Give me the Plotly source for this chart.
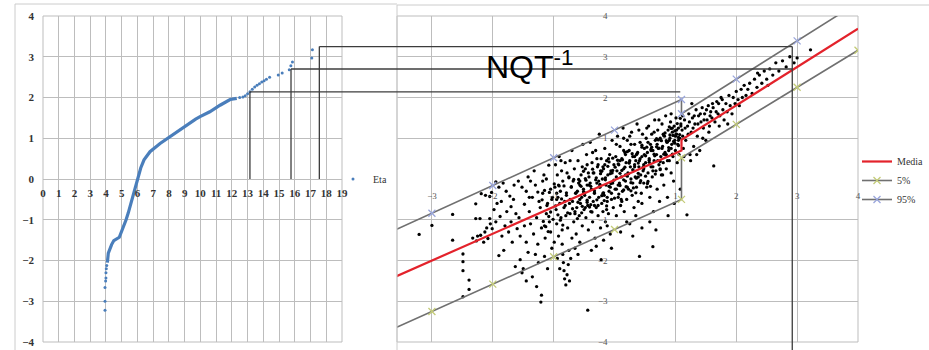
import plotly.graph_objects as go

W, H = 929, 350

# ---------------- data: left panel (Eta) ----------------
eta_x_ticks = list(range(0, 20))
eta_y_ticks = list(range(-4, 5))

eta_line_x = [4.09, 4.15, 4.36, 4.50, 4.85, 5.05, 5.28, 5.42, 5.57, 5.72, 5.85, 5.98, 6.21, 6.42, 6.80,
              7.44, 8.07, 8.71, 9.34, 9.70, 9.98, 10.60, 11.25, 11.89, 12.31]
eta_line_y = [-2.05, -1.82, -1.61, -1.51, -1.43, -1.25, -1.00, -0.83, -0.63, -0.45, -0.26, -0.05, 0.27, 0.47, 0.67,
              0.87, 1.04, 1.20, 1.38, 1.47, 1.53, 1.65, 1.81, 1.95, 1.98]
eta_tail_x = [3.94, 3.94, 3.94, 3.98, 4.00, 4.00, 4.02, 4.05,
              12.50, 12.70, 12.85, 13.00, 13.15, 13.30, 13.45, 13.60, 13.75, 13.90, 14.05, 14.20, 14.40,
              14.95, 15.20, 15.65, 15.75, 15.85, 17.08, 17.12]
eta_tail_y = [-3.22, -3.00, -2.66, -2.50, -2.43, -2.30, -2.20, -2.12,
              2.00, 2.01, 2.04, 2.09, 2.14, 2.20, 2.26, 2.30, 2.34, 2.38, 2.41, 2.45, 2.50,
              2.55, 2.60, 2.68, 2.78, 2.87, 2.97, 3.17]

# ---------------- data: right panel ----------------
right_x_ticks = [-3, -2, -1, 1, 2, 3, 4]
right_y_ticks = [-4, -3, -2, -1, 1, 2, 3, 4]

band_x = [-4, -3, -2, -1, 0, 1.1, 1.1, 2, 3, 4]
media_y = [-2.66, -2.00, -1.34, -0.68, -0.02, 0.70, 0.96, 1.81, 2.75, 3.69]
p5_y = [-3.92, -3.25, -2.58, -1.91, -1.24, -0.50, 0.52, 1.34, 2.25, 3.16]
p95_y = [-1.52, -0.84, -0.16, 0.52, 1.20, 1.95, 1.60, 2.45, 3.39, 4.33]

cloud_points = [
    (-3.21, -1.36), (-3.00, -1.14), (-2.66, -0.87), (-2.66, -1.50), (-2.49, -1.84), (-2.49, -2.03), (-2.49, -2.25),
    (-2.39, -2.48), (-2.39, -2.71), (-2.49, -2.89), (-2.28, -0.97), (-2.21, -0.97), (-2.05, -0.97), (-2.28, -0.61),
    (-2.33, -1.45), (-2.27, -1.52), (-2.20, -1.38), (-2.13, -1.30), (-2.08, -1.46), (-2.19, -0.36), (-2.12, -0.40),
    (-2.05, -0.43), (-2.02, -0.33), (-2.01, -1.22), (-2.04, -1.10), (-2.10, -1.20), (-2.15, -1.55), (-2.25, -1.40),
    (-1.95, -0.07), (-1.90, -0.20), (-1.83, -0.10), (-1.78, -0.30), (-1.72, -0.42), (-1.66, -0.50), (-1.86, -0.55),
    (-1.93, -0.60), (-1.70, -0.68), (-1.62, -0.85), (-1.57, -0.95), (-1.88, -0.92), (-1.95, -1.05), (-1.80, -1.15),
    (-1.74, -1.30), (-1.60, -1.22), (-1.55, -1.40), (-1.90, -1.88), (-1.82, -1.75), (-1.63, -2.15), (-1.55, -1.98),
    (-1.52, -2.30), (-1.68, -1.55), (-1.77, -0.80), (-1.98, -0.75), (-1.52, -0.20), (-1.58, -0.05), (-1.65, -0.15),
    (-1.85, -1.40), (-1.70, -1.05),
    (-1.48, -0.62), (-1.45, -0.30), (-1.42, 0.05), (-1.40, -0.80), (-1.38, -1.10), (-1.35, -0.45), (-1.33, -1.35),
    (-1.30, -0.15), (-1.28, -0.95), (-1.26, -1.60), (-1.24, -0.55), (-1.22, -0.70), (-1.20, -1.20), (-1.18, -0.35),
    (-1.16, 0.10), (-1.14, -1.45), (-1.12, -0.85), (-1.10, -0.60), (-1.08, 0.34), (-1.07, -1.05), (-1.05, -0.25),
    (-1.03, -1.70), (-1.02, -0.45), (-1.45, -1.55), (-1.42, -1.80), (-1.35, -2.40), (-1.28, -2.64), (-1.20, -2.85),
    (-1.21, -3.02), (-1.45, -2.50), (-1.50, -2.20), (-1.25, -2.05), (-1.15, -1.90), (-1.38, -0.05), (-1.32, 0.20),
    (-1.12, 0.00), (-1.30, -1.85), (-1.10, -2.20), (-1.48, -1.15), (-1.05, -1.30), (-1.18, -0.05), (-1.40, -0.45),
    (-1.26, -0.32), (-1.08, -0.92), (-1.15, -1.15),
    (-0.98, -0.20), (-0.97, 0.35), (-0.96, -0.75), (-0.95, -1.10), (-0.94, 0.10), (-0.93, -0.45), (-0.92, -1.40),
    (-0.91, 0.55), (-0.90, -0.60), (-0.89, -0.30), (-0.88, -0.95), (-0.87, 0.20), (-0.86, -1.60), (-0.85, -1.85),
    (-0.84, -2.05), (-0.83, -2.25), (-0.82, -2.45), (-0.80, -2.60), (-0.78, -2.35), (-0.76, -2.10), (-0.75, -1.75),
    (-0.74, -2.50), (-0.72, -1.95), (-0.85, -0.05), (-0.83, -0.70), (-0.81, 0.40), (-0.79, -0.40), (-0.77, -1.20),
    (-0.75, 0.05), (-0.73, -0.85), (-0.71, -0.20), (-0.70, 0.70), (-0.69, -0.55), (-0.67, -1.05), (-0.66, 0.25),
    (-0.64, -0.35), (-0.63, -1.35), (-0.62, -0.70), (-0.60, 0.45), (-0.59, -0.10), (-0.58, -0.90), (-0.57, -1.55),
    (-0.55, 0.10), (-0.54, -0.45), (-0.53, -1.15), (-0.52, 0.85), (-0.51, -0.25), (-0.50, -0.75), (-0.95, -0.50),
    (-0.92, -0.15), (-0.88, 0.45), (-0.86, -1.25), (-0.80, -0.90), (-0.78, 0.15), (-0.74, -0.60), (-0.70, -1.45),
    (-0.68, -0.05), (-0.65, -0.80), (-0.61, -0.30), (-0.56, -0.60), (-0.99, -1.55), (-0.94, -1.95), (-0.90, -2.20),
    (-0.60, -1.85), (-0.65, -1.70), (-0.57, -0.05), (-0.53, 0.30), (-0.73, 0.45), (-0.82, -0.55),
    (-0.49, -0.40), (-0.48, 0.25), (-0.47, -0.95), (-0.46, 0.60), (-0.45, -0.15), (-0.44, -3.22), (-0.44, -0.65),
    (-0.43, -1.25), (-0.42, 0.05), (-0.41, -0.45), (-0.40, 0.90), (-0.39, -0.80), (-0.38, -0.25), (-0.37, 0.40),
    (-0.36, -1.05), (-0.35, -0.55), (-0.34, 0.15), (-0.33, -0.35), (-0.32, -1.45), (-0.31, 0.70), (-0.30, -0.70),
    (-0.29, -0.10), (-0.28, 0.30), (-0.27, -0.90), (-0.26, -0.45), (-0.25, 1.10), (-0.24, -0.20), (-0.23, -1.20),
    (-0.22, -1.98), (-0.22, 0.50), (-0.21, -0.60), (-0.20, 0.00), (-0.19, -0.80), (-0.18, 0.25), (-0.17, -0.40),
    (-0.16, 0.75), (-0.15, -1.05), (-0.14, -0.15), (-0.13, 0.45), (-0.12, -0.55), (-0.11, 0.10), (-0.10, -0.85),
    (-0.09, -0.30), (-0.08, 0.60), (-0.07, -1.35), (-0.06, 0.20), (-0.05, -0.50), (-0.04, 0.95), (-0.03, -0.10),
    (-0.02, -0.70), (-0.01, 0.35), (-0.48, -0.70), (-0.45, 0.35), (-0.40, -0.10), (-0.36, 0.65), (-0.33, -0.65),
    (-0.29, 0.50), (-0.26, -0.05), (-0.23, 0.20), (-0.19, -0.35), (-0.16, 0.35), (-0.13, -0.75), (-0.10, 0.50),
    (-0.07, -0.20), (-0.04, 0.15), (-0.30, -1.65), (-0.18, -1.50), (-0.05, -1.70), (-0.12, -1.15), (-0.38, -1.75),
    (0.01, -0.25), (0.02, 0.55), (0.03, -0.90), (0.04, 0.20), (0.05, 1.05), (0.06, -0.45), (0.07, 0.35), (0.08, -0.10),
    (0.09, 0.80), (0.10, -0.65), (0.11, 0.05), (0.12, 0.50), (0.13, -0.30), (0.14, 1.25), (0.15, 0.25), (0.16, -0.80),
    (0.17, 0.65), (0.18, -0.05), (0.19, 0.40), (0.20, -0.50), (0.21, 0.95), (0.22, 0.15), (0.23, -0.25), (0.24, 0.70),
    (0.25, -1.10), (0.26, 0.30), (0.27, 0.00), (0.28, 1.15), (0.29, -0.40), (0.30, 0.55), (0.31, 0.20), (0.32, -0.70),
    (0.33, 0.85), (0.34, 0.05), (0.35, 0.45), (0.36, -0.20), (0.37, 1.35), (0.38, 0.65), (0.39, -0.55), (0.40, 0.30),
    (0.41, -1.90), (0.42, 0.90), (0.43, 0.10), (0.44, -0.35), (0.45, 0.55), (0.46, 1.10), (0.47, 0.20), (0.48, -0.10),
    (0.49, 0.75), (0.03, 0.85), (0.06, -0.15), (0.09, 0.45), (0.12, -0.55), (0.15, 0.70), (0.18, 0.10), (0.21, -0.20),
    (0.24, 0.40), (0.27, 0.85), (0.30, -0.10), (0.33, 0.35), (0.36, 0.60), (0.39, 0.05), (0.42, 0.50), (0.45, -0.60),
    (0.48, 0.35), (0.10, -1.30), (0.20, -1.05), (0.30, -1.40), (0.45, -1.20), (0.35, -0.90), (0.15, 1.00),
    (0.25, 1.05), (0.40, 1.20),
    (0.51, 0.40), (0.52, 1.00), (0.53, -0.20), (0.54, 0.65), (0.55, 0.15), (0.56, 1.30), (0.57, 0.50), (0.58, -0.45),
    (0.59, 0.85), (0.60, 0.30), (0.61, 1.10), (0.62, 0.05), (0.63, -1.66), (0.63, 0.70), (0.64, -0.80), (0.65, 0.45),
    (0.66, 1.45), (0.67, 0.95), (0.68, 0.20), (0.69, 0.60), (0.70, -0.25), (0.71, 1.20), (0.72, 0.75), (0.73, 0.35),
    (0.74, -0.55), (0.75, 1.00), (0.76, 0.55), (0.77, 0.10), (0.78, 1.35), (0.79, 0.80), (0.80, 0.40), (0.81, -0.15),
    (0.82, 1.05), (0.83, 0.65), (0.84, 1.55), (0.85, 0.25), (0.86, 0.90), (0.87, -0.45), (0.88, 1.20), (0.89, 0.70),
    (0.90, 0.45), (0.91, 1.00), (0.92, 1.40), (0.93, 0.15), (0.94, 0.85), (0.95, 1.15), (0.96, 0.55), (0.97, -0.05),
    (0.98, 1.30), (0.99, 0.95), (1.00, 0.70), (1.01, 1.50), (1.02, 1.10), (1.03, 0.40), (1.04, 0.85), (1.05, 1.25),
    (1.06, 0.60), (1.07, 1.00), (1.08, -0.25), (1.09, 1.35), (0.55, 0.90), (0.60, 0.70), (0.65, 1.15), (0.70, 0.85),
    (0.75, 0.25), (0.80, 1.10), (0.85, 0.60), (0.90, 0.95), (0.95, 1.25), (1.00, 1.05), (1.05, 0.95), (0.58, -1.05),
    (0.68, -1.25), (0.88, -0.90), (0.98, -0.60), (0.53, 1.25), (0.73, 1.45), (0.93, 1.60),
    (1.11, 1.20), (1.13, 0.75), (1.15, 1.45), (1.17, 0.95), (1.19, -0.88), (1.20, 1.30), (1.22, 1.60), (1.24, 0.60),
    (1.26, 1.15), (1.28, 1.50), (1.30, 0.80), (1.32, 1.35), (1.34, 1.70), (1.36, 1.05), (1.38, 1.55), (1.40, 0.70),
    (1.42, 1.40), (1.44, 1.75), (1.46, 1.25), (1.48, 1.60), (1.50, 0.95), (1.52, 1.45), (1.54, 1.80), (1.56, 1.30),
    (1.58, 1.65), (1.60, 1.50), (1.63, 0.32), (1.14, 0.55), (1.25, 0.45), (1.35, 0.60), (1.12, 1.55), (1.27, 1.85),
    (1.45, 1.00), (1.55, 1.15),
    (1.12, 1.05), (1.16, 1.25), (1.21, 1.10), (1.23, 1.40), (1.29, 1.25), (1.31, 1.55), (1.37, 1.35), (1.41, 1.60),
    (1.47, 1.45), (1.51, 1.70), (1.57, 1.55), (1.61, 1.85), (1.67, 1.65), (1.71, 1.85), (1.77, 1.95),
    (1.62, 1.75), (1.65, 1.40), (1.68, 1.90), (1.70, 1.60), (1.73, 1.55), (1.75, 2.00), (1.78, 1.70), (1.80, 1.45),
    (1.83, 1.85), (1.85, 1.65), (1.88, 2.05), (1.90, 1.80), (1.93, 1.60), (1.95, 2.00), (1.98, 1.85), (2.00, 2.15),
    (2.03, 1.95), (2.05, 1.80), (2.08, 2.20), (2.10, 2.00), (2.13, 2.30), (2.16, 2.05), (2.19, 2.20), (1.72, 1.30),
    (1.86, 1.35),
    (2.22, 2.35), (2.26, 2.10), (2.30, 2.45), (2.34, 2.25), (2.38, 2.55), (2.42, 2.35), (2.46, 2.65), (2.50, 2.45),
    (2.55, 2.70), (2.60, 2.55), (2.65, 2.85), (2.70, 2.65), (2.76, 2.90), (2.82, 2.75), (2.88, 3.00), (2.95, 2.85),
    (3.00, 2.97), (3.22, 3.17), (2.35, 2.60), (2.52, 2.30),
]
# dense core of the cloud, close to the median line
cloud_core = [
    (-1.19, -0.51), (-1.17, -1.04), (-1.15, -0.28), (-1.13, -1.17), (-1.11, -0.65), (-1.09, -1.29), (-1.07, -0.33),
    (-1.05, -0.81), (-1.03, -0.50), (-1.01, -0.99), (-0.99, -0.12), (-0.97, -0.66), (-0.95, -0.35), (-0.93, -0.88),
    (-0.91, -0.17), (-0.89, -1.01), (-0.87, -0.49), (-0.85, -1.13), (-0.83, -0.17), (-0.81, -0.65), (-0.79, -0.34),
    (-0.77, -0.83), (-0.75, 0.03), (-0.73, -0.50), (-0.71, -0.19), (-0.69, -0.73), (-0.67, -0.01), (-0.65, -0.85),
    (-0.63, -0.34), (-0.61, -0.97), (-0.59, -0.01), (-0.57, -0.50), (-0.55, -0.18), (-0.53, -0.67), (-0.51, 0.19),
    (-0.49, -0.34), (-0.47, -0.03), (-0.45, -0.57), (-0.43, 0.15), (-0.41, -0.69), (-0.39, -0.18), (-0.37, -0.81),
    (-0.35, 0.15), (-0.33, -0.34), (-0.31, -0.02), (-0.29, -0.51), (-0.27, 0.35), (-0.25, -0.19), (-0.23, 0.13),
    (-0.21, -0.41), (-0.19, 0.30), (-0.17, -0.53), (-0.15, -0.02), (-0.13, -0.66), (-0.11, 0.31), (-0.09, -0.18),
    (-0.07, 0.13), (-0.05, -0.35), (-0.03, 0.51), (-0.01, -0.03), (0.01, 0.29), (0.03, -0.25), (0.05, 0.46),
    (0.07, -0.37), (0.09, 0.14), (0.11, -0.50), (0.13, 0.47), (0.15, -0.02), (0.17, 0.29), (0.19, -0.19),
    (0.21, 0.67), (0.23, 0.13), (0.25, 0.45), (0.27, -0.09), (0.29, 0.62), (0.31, -0.22), (0.33, 0.30),
    (0.35, -0.34), (0.37, 0.62), (0.39, 0.14), (0.41, 0.45), (0.43, -0.04), (0.45, 0.83), (0.47, 0.29),
    (0.49, 0.60), (0.51, 0.07), (0.53, 0.78), (0.55, -0.06), (0.57, 0.46), (0.59, -0.18), (0.61, 0.78),
    (0.63, 0.30), (0.65, 0.61), (0.67, 0.12), (0.69, 0.99), (0.71, 0.45), (0.73, 0.76), (0.75, 0.23),
    (0.77, 0.94), (0.79, 0.10), (0.81, 0.61), (0.83, 1.13), (0.85, 0.94), (0.87, 0.45), (0.89, 0.77),
    (0.91, 1.08), (0.93, 1.24), (0.95, 0.61), (0.97, 0.92), (0.99, 1.18), (1.01, 1.10), (1.03, 1.36),
    (1.05, 0.82), (1.07, 1.09), (1.09, 1.30),
    (-0.60, -0.57), (-0.57, -0.15), (-0.54, -0.83), (-0.51, -0.31), (-0.48, 0.01), (-0.45, -0.52), (-0.42, -0.15),
    (-0.39, -0.63), (-0.36, 0.24), (-0.33, -0.29), (-0.30, 0.03), (-0.27, -0.65), (-0.24, -0.13), (-0.21, 0.19),
    (-0.18, -0.34), (-0.15, 0.03), (-0.12, -0.45), (-0.09, 0.42), (-0.06, -0.11), (-0.03, 0.21), (0.00, -0.47),
    (0.03, 0.05), (0.06, 0.37), (0.09, -0.16), (0.12, 0.21), (0.15, -0.27), (0.18, 0.60), (0.21, 0.07),
    (0.24, 0.39), (0.27, -0.29), (0.30, 0.23), (0.33, 0.55), (0.36, 0.02), (0.39, 0.39), (0.42, -0.09),
    (0.45, 0.78), (0.48, 0.25), (0.51, 0.57), (0.54, -0.11), (0.57, 0.41), (0.60, 0.73), (0.63, 0.20),
    (0.66, 0.57), (0.69, 0.79), (0.72, 0.96), (0.75, 0.43), (0.78, 0.75), (0.81, 1.07), (0.84, 0.59),
    (0.87, 0.91), (0.90, 1.28), (0.93, 0.75), (0.96, 1.07), (0.99, 0.88), (1.02, 1.20), (1.05, 1.02),
    (1.08, 1.49),
]
cloud_x = [p[0] for p in cloud_points + cloud_core]
cloud_y = [p[1] for p in cloud_points + cloud_core]

# connecting guide lines (left x where they rise, level, right x where they end)
link_y = [2.14, 2.70, 3.25]
link_x_left = [13.15, 15.76, 17.56]
link_x_right = [1.08, 2.92, 2.92]

# ---------------- geometry ----------------
LX0, LX1 = 43 / W, 342 / W
RX0, RX1 = 397 / W, 858 / W
PY0, PY1 = 1 - 342 / H, 1 - 16 / H
R_XMIN = (397 - 615) / 61.0
L_RANGE = [0, 19]
R_RANGE = [R_XMIN, 4]
Y_RANGE = [-4, 4]


def lx2p(x):
    return LX0 + (x - L_RANGE[0]) / (L_RANGE[1] - L_RANGE[0]) * (LX1 - LX0)


def rx2p(x):
    return RX0 + (x - R_RANGE[0]) / (R_RANGE[1] - R_RANGE[0]) * (RX1 - RX0)


def y2p(y):
    return PY0 + (y - Y_RANGE[0]) / (Y_RANGE[1] - Y_RANGE[0]) * (PY1 - PY0)


GRID = "#bdbdbd"
BLUE = "#4a7ebb"
SERIF = "Liberation Serif"

fig = go.Figure()

# left panel
fig.add_trace(go.Scatter(x=eta_line_x, y=eta_line_y, mode="lines", line=dict(color=BLUE, width=3.2),
                         xaxis="x", yaxis="y", showlegend=False, hoverinfo="skip"))
fig.add_trace(go.Scatter(x=eta_tail_x, y=eta_tail_y, mode="markers", name="Eta",
                         marker=dict(color=BLUE, size=3), xaxis="x", yaxis="y", legend="legend2"))

# right panel
fig.add_trace(go.Scatter(x=cloud_x, y=cloud_y, mode="markers", marker=dict(color="black", size=3.3),
                         xaxis="x2", yaxis="y2", showlegend=False, hoverinfo="skip"))
fig.add_trace(go.Scatter(x=band_x, y=p95_y, mode="lines+markers", name="95%", legendrank=3,
                         line=dict(color="#707070", width=1.6),
                         marker=dict(symbol="x-thin", size=7, line=dict(width=1.3, color="#9aa6dc")),
                         xaxis="x2", yaxis="y2"))
fig.add_trace(go.Scatter(x=band_x, y=p5_y, mode="lines+markers", name="5%", legendrank=2,
                         line=dict(color="#707070", width=1.6),
                         marker=dict(symbol="x-thin", size=7, line=dict(width=1.3, color="#c4cc78")),
                         xaxis="x2", yaxis="y2"))
fig.add_trace(go.Scatter(x=band_x, y=media_y, mode="lines", name="Media", legendrank=1,
                         line=dict(color="#e3222b", width=2.2),
                         xaxis="x2", yaxis="y2"))

y0p = y2p(0)
axis_common = dict(showgrid=True, gridcolor=GRID, gridwidth=1, zeroline=False, showline=False, ticks="")

fig.update_layout(
    width=W, height=H, margin=dict(l=0, r=0, t=0, b=0, autoexpand=False),
    paper_bgcolor="white", plot_bgcolor="white",
    xaxis=dict(domain=[LX0, LX1], range=L_RANGE, tickvals=eta_x_ticks, anchor="free", position=y0p,
               tickfont=dict(family=SERIF, size=11, color="#333", weight="bold"), ticklabelstandoff=6,
               **axis_common),
    yaxis=dict(domain=[PY0, PY1], range=Y_RANGE, tickvals=eta_y_ticks, anchor="x",
               tickfont=dict(family=SERIF, size=11, color="#333", weight="bold"), ticklabelstandoff=8,
               **axis_common),
    xaxis2=dict(domain=[RX0, RX1], range=R_RANGE, tickvals=right_x_ticks, anchor="free", position=y0p,
                tickfont=dict(family=SERIF, size=9, color="#555"), ticklabelstandoff=10,
                **axis_common),
    yaxis2=dict(domain=[PY0, PY1], range=Y_RANGE, tickvals=right_y_ticks, anchor="free",
                position=rx2p(0), side="left",
                tickfont=dict(family=SERIF, size=9, color="#555"), ticklabelstandoff=7,
                **axis_common),
    legend=dict(x=1, y=1 - 147 / H, xanchor="right", yanchor="top", bgcolor="rgba(0,0,0,0)",
                font=dict(family=SERIF, size=10, color="#333"), tracegroupgap=0),
    legend2=dict(x=333 / W, y=y0p, xanchor="left", yanchor="middle", bgcolor="rgba(0,0,0,0)",
                 font=dict(family=SERIF, size=10, color="#333")),
)

shapes = []
line_dark = dict(color="#3c3c3c", width=1.3)
frame = dict(color="#cccccc", width=1)
# plot-area borders
shapes.append(dict(type="rect", xref="x domain", yref="y domain", x0=0, x1=1, y0=0, y1=1,
                   line=dict(color=GRID, width=1), layer="below"))
shapes.append(dict(type="rect", xref="x2 domain", yref="y2 domain", x0=0, x1=1, y0=0, y1=1,
                   line=dict(color=GRID, width=1), layer="below"))
# chart frames
shapes.append(dict(type="line", xref="paper", yref="paper", x0=15 / W, x1=RX0, y0=1 - 4 / H, y1=1 - 4 / H, line=frame))
shapes.append(dict(type="line", xref="paper", yref="paper", x0=15 / W, x1=15 / W, y0=0, y1=1 - 4 / H, line=frame))
shapes.append(dict(type="line", xref="paper", yref="paper", x0=RX0, x1=1, y0=1 - 5 / H, y1=1 - 5 / H, line=frame))
shapes.append(dict(type="line", xref="paper", yref="paper", x0=RX0, x1=RX0, y0=0, y1=1 - 5 / H, line=frame))
# connecting guide lines
for xl, yv, xr in zip(link_x_left, link_y, link_x_right):
    shapes.append(dict(type="line", xref="x", yref="y", x0=xl, x1=xl, y0=0, y1=yv, line=line_dark))
    shapes.append(dict(type="line", xref="paper", yref="paper", x0=lx2p(xl), x1=rx2p(xr), y0=y2p(yv), y1=y2p(yv),
                       line=line_dark))
shapes.append(dict(type="line", xref="paper", yref="paper", x0=rx2p(link_x_right[2]), x1=rx2p(link_x_right[2]),
                   y0=0, y1=y2p(link_y[2]), line=line_dark))
fig.update_layout(shapes=shapes)

fig.add_annotation(xref="paper", yref="paper", x=484 / W, y=1 - 65 / H, xanchor="left", yanchor="middle",
                   text="NQT<sup>-1</sup>", showarrow=False,
                   font=dict(family="Liberation Sans", size=32, color="black"))

fig.write_html("out.html")
